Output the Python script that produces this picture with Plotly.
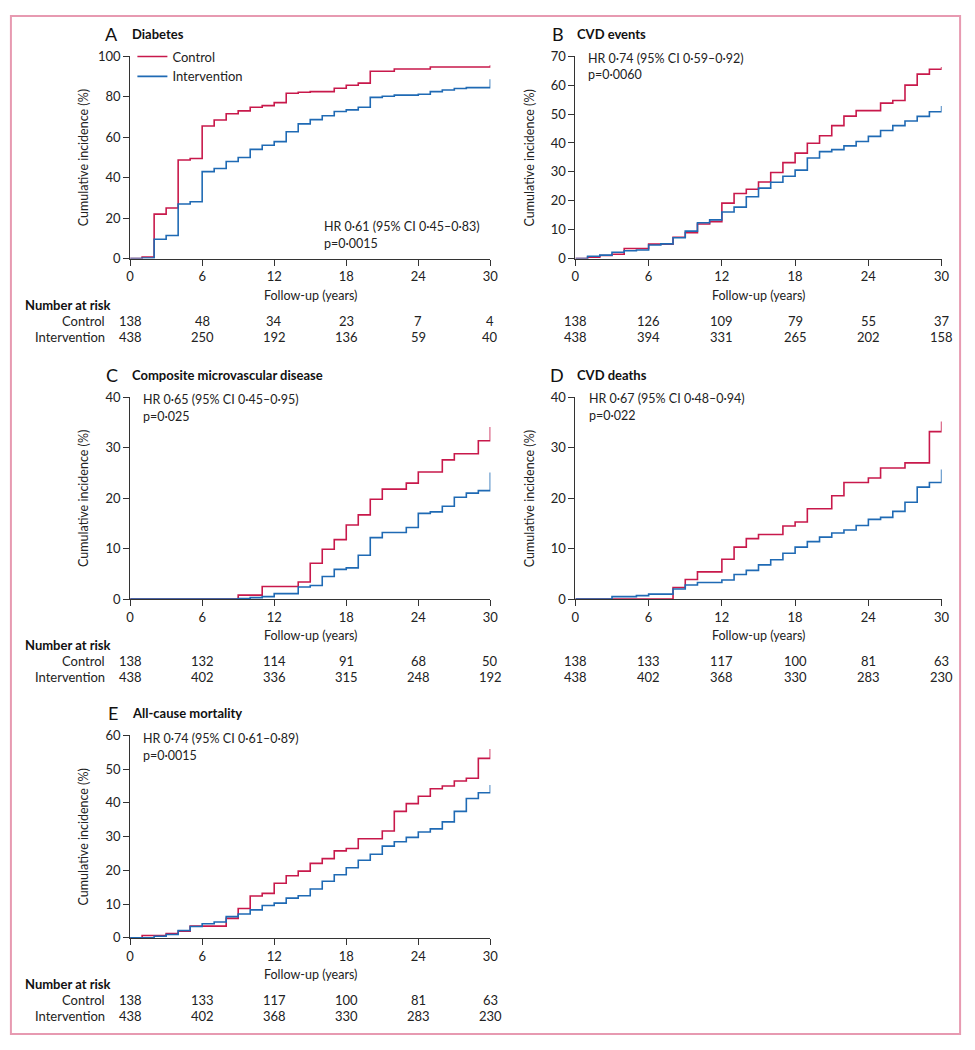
import plotly.graph_objects as go

# ---------------- data ----------------
x_ticks = [0, 6, 12, 18, 24, 30]

# Panel A: Diabetes
a_ctrl_t = [0, 1, 2, 3, 4, 5, 6, 7, 8, 9, 10, 11, 12, 13, 14, 15, 17, 18, 19, 20, 22, 25, 30]
a_ctrl_y = [0, 0.8, 22, 25, 48.7, 49.5, 65.5, 68.5, 71.6, 73, 74.8, 75.6, 77.1, 81.7, 82.2, 82.5, 84.2, 85.7, 86.7, 92.6, 93.7, 94.7, 95.5]
a_int_t = [0, 1, 2, 3, 4, 5, 6, 7, 8, 9, 10, 11, 12, 13, 14, 15, 16, 17, 18, 19, 20, 21, 22, 24, 25, 26, 27, 28, 30]
a_int_y = [0, 0.3, 9.6, 11.4, 27, 28.1, 43, 44.5, 48, 50, 54, 56, 57.8, 62.7, 66.6, 68.7, 70.6, 72.7, 73.5, 74.8, 79.7, 80.2, 80.8, 81.2, 82.5, 83.3, 84.1, 84.5, 88.6]

# Panel B: CVD events
b_ctrl_t = [0, 1, 2, 3, 4, 6, 8, 9, 10, 11, 12, 13, 14, 15, 16, 17, 18, 19, 20, 21, 22, 23, 25, 26, 27, 28, 29, 30]
b_ctrl_y = [0, 0.5, 1.1, 1.5, 3.5, 5, 7.4, 9, 12, 12.8, 19.2, 22.5, 24, 26.5, 29.8, 33.2, 36.5, 39.9, 42.5, 46, 49.3, 51.2, 53.8, 54.7, 60, 63.8, 65.5, 66.3]
b_int_t = list(range(0, 31))
b_int_y = [0, 0.8, 1.2, 2.2, 2.7, 3, 4.7, 5.1, 7.2, 9.5, 12.4, 13.4, 16.1, 17.8, 21.4, 24.4, 26.4, 28.5, 30.6, 34.8, 37, 37.7, 39, 40.5, 42.3, 44.3, 46, 47.6, 49.2, 50.8, 52.8]

# Panel C: Composite microvascular disease
c_ctrl_t = [0, 9, 11, 14, 15, 16, 17, 18, 19, 20, 21, 23, 24, 26, 27, 29, 30]
c_ctrl_y = [0, 0.8, 2.5, 3.4, 7.1, 9.9, 11.8, 14.7, 16.7, 19.8, 21.8, 23, 25.2, 27.6, 28.8, 31.4, 34.1]
c_int_t = [0, 9, 10, 11, 12, 14, 15, 16, 17, 18, 19, 20, 21, 23, 24, 25, 26, 27, 28, 29, 30]
c_int_y = [0, 0.1, 0.3, 0.5, 1.1, 2.4, 2.7, 4.5, 5.9, 6.2, 8.7, 12.2, 13.2, 14.2, 17.0, 17.3, 18.4, 20.2, 21.0, 21.5, 25.1]

# Panel D: CVD deaths
d_ctrl_t = [0, 8, 9, 10, 12, 13, 14, 15, 17, 18, 19, 21, 22, 24, 25, 27, 29, 30]
d_ctrl_y = [0, 2.3, 3.9, 5.4, 7.9, 10.3, 12, 12.8, 14.5, 15.3, 17.9, 20.5, 23.1, 24, 26, 27, 33.2, 35.2]
d_int_t = [0, 3, 5, 6, 8, 9, 10, 12, 13, 14, 15, 16, 17, 18, 19, 20, 21, 22, 23, 24, 25, 26, 27, 28, 29, 30]
d_int_y = [0, 0.5, 0.7, 1.0, 2.0, 2.8, 3.3, 3.8, 4.9, 5.7, 6.8, 7.8, 9.1, 10.3, 11.4, 12.3, 13.1, 13.7, 14.6, 15.8, 16.2, 17.4, 19.2, 22.2, 23.1, 25.7]

# Panel E: All-cause mortality
e_ctrl_t = [0, 1, 3, 4, 5, 8, 9, 10, 11, 12, 13, 14, 15, 16, 17, 18, 19, 21, 22, 23, 24, 25, 26, 27, 28, 29, 30]
e_ctrl_y = [0, 0.7, 1.3, 2.0, 3.5, 5.8, 8.7, 12.4, 13.2, 16.2, 18.4, 19.8, 22.1, 23.5, 25.8, 26.5, 29.4, 31.7, 37.5, 39.8, 42, 44.2, 45, 46.5, 47.3, 53.2, 56]
e_int_t = [0] + list(range(2, 31))
e_int_y = [0, 0.5, 1.0, 2.2, 3.4, 4.2, 4.7, 6.3, 7.1, 8.3, 9.6, 10.3, 11.8, 12.5, 14.5, 16.8, 18.7, 20.8, 23, 24.8, 27.2, 28.5, 29.8, 31.4, 32.3, 34.4, 37.5, 41.3, 43, 45.3]

# Number at risk
a_risk_ctrl = [138, 48, 34, 23, 7, 4]
a_risk_int = [438, 250, 192, 136, 59, 40]
b_risk_ctrl = [138, 126, 109, 79, 55, 37]
b_risk_int = [438, 394, 331, 265, 202, 158]
c_risk_ctrl = [138, 132, 114, 91, 68, 50]
c_risk_int = [438, 402, 336, 315, 248, 192]
d_risk_ctrl = [138, 133, 117, 100, 81, 63]
d_risk_int = [438, 402, 368, 330, 283, 230]
e_risk_ctrl = [138, 133, 117, 100, 81, 63]
e_risk_int = [438, 402, 368, 330, 283, 230]

# ---------------- layout helpers ----------------
W, H = 975, 1050
FONT = "Lato"
RED = "#c8194b"
BLUE = "#1f6ab4"
AX = "#333333"


def px(x):
    return x / W


def py(y):
    return 1 - y / H


panels = [
    dict(letter="A", title="Diabetes", hr="HR 0·61 (95% CI 0·45–0·83)", p="p=0·0015",
         hrpos=(322, 222), ymax=100, dtick=20, xs=(127.7, 492.4), ys=(49, 254.5),
         ctrl=(a_ctrl_t, a_ctrl_y), inter=(a_int_t, a_int_y), risk=(a_risk_ctrl, a_risk_int), labels=True),
    dict(letter="B", title="CVD events", hr="HR 0·74 (95% CI 0·59–0·92)", p="p=0·0060",
         hrpos=(589, 51), ymax=70, dtick=10, xs=(578.5, 949.3), ys=(49, 254.5),
         ctrl=(b_ctrl_t, b_ctrl_y), inter=(b_int_t, b_int_y), risk=(b_risk_ctrl, b_risk_int), labels=False),
    dict(letter="C", title="Composite microvascular disease", hr="HR 0·65 (95% CI 0·45–0·95)", p="p=0·025",
         hrpos=(139, 398), ymax=40, dtick=10, xs=(127.7, 492.4), ys=(395.3, 600.3),
         ctrl=(c_ctrl_t, c_ctrl_y), inter=(c_int_t, c_int_y), risk=(c_risk_ctrl, c_risk_int), labels=True),
    dict(letter="D", title="CVD deaths", hr="HR 0·67 (95% CI 0·48–0·94)", p="p=0·022",
         hrpos=(590, 397), ymax=40, dtick=10, xs=(578.5, 949.3), ys=(395.3, 600.3),
         ctrl=(d_ctrl_t, d_ctrl_y), inter=(d_int_t, d_int_y), risk=(d_risk_ctrl, d_risk_int), labels=False),
    dict(letter="E", title="All-cause mortality", hr="HR 0·74 (95% CI 0·61–0·89)", p="p=0·0015",
         hrpos=(139, 742), ymax=60, dtick=10, xs=(127.7, 492.4), ys=(738.7, 944.3),
         ctrl=(e_ctrl_t, e_ctrl_y), inter=(e_int_t, e_int_y), risk=(e_risk_ctrl, e_risk_int), labels=True),
]

fig = go.Figure()
annotations = []
TXT = dict(family=FONT, size=12.5, color="#222")

for i, pn in enumerate(panels):
    n = i + 1
    xa = "x" if n == 1 else f"x{n}"
    ya = "y" if n == 1 else f"y{n}"
    xkey = "xaxis" if n == 1 else f"xaxis{n}"
    ykey = "yaxis" if n == 1 else f"yaxis{n}"
    x0, x1 = pn["xs"]
    ytop, ybot = pn["ys"]

    fig.add_trace(go.Scatter(x=pn["ctrl"][0], y=pn["ctrl"][1], mode="lines", line_shape="hv",
                             line=dict(color=RED, width=1.6), name="Control",
                             showlegend=(n == 1), xaxis=xa, yaxis=ya, hoverinfo="skip"))
    fig.add_trace(go.Scatter(x=pn["inter"][0], y=pn["inter"][1], mode="lines", line_shape="hv",
                             line=dict(color=BLUE, width=1.6), name="Intervention",
                             showlegend=(n == 1), xaxis=xa, yaxis=ya, hoverinfo="skip"))

    common = dict(showline=True, linecolor=AX, linewidth=1, ticks="outside", ticklen=6,
                  tickcolor=AX, tickwidth=1, showgrid=False, zeroline=False,
                  tickfont=dict(family=FONT, size=13, color="#222"))
    fig.update_layout({
        xkey: dict(domain=[px(x0), px(x1)], range=[0, 30], tickvals=x_ticks,
                   anchor=ya, **common),
        ykey: dict(domain=[py(ybot), py(ytop)], range=[0, pn["ymax"]], dtick=pn["dtick"],
                   tick0=0, anchor=xa, **common),
    })

    annotations.append(dict(text=pn["letter"], x=px(x0 - 10), y=py(ytop - 23), xref="paper", yref="paper",
                            xanchor="right", yanchor="middle", showarrow=False,
                            font=dict(family=FONT, size=18, color="#111")))
    annotations.append(dict(text="<b>" + pn["title"] + "</b>", x=px(x0), y=py(ytop - 23),
                            xref="paper", yref="paper", xanchor="left", yanchor="middle",
                            showarrow=False, font=dict(family=FONT, size=13, color="#111")))
    hx, hy = pn["hrpos"]
    annotations.append(dict(text=pn["hr"], x=px(hx), y=py(hy), xref="paper", yref="paper",
                            xanchor="left", yanchor="middle", showarrow=False, font=TXT))
    annotations.append(dict(text=pn["p"], x=px(hx), y=py(hy + 17), xref="paper", yref="paper",
                            xanchor="left", yanchor="middle", showarrow=False, font=TXT))
    annotations.append(dict(text="Cumulative incidence (%)", x=px(x0 - 47), y=py((ytop + ybot) / 2),
                            xref="paper", yref="paper", textangle=-90, xanchor="center",
                            yanchor="middle", showarrow=False, font=TXT))
    annotations.append(dict(text="Follow-up (years)", x=px((x0 + x1) / 2), y=py(ybot + 37),
                            xref="paper", yref="paper", xanchor="center", yanchor="middle",
                            showarrow=False, font=TXT))
    rc, ri = pn["risk"]
    if pn["labels"]:
        annotations.append(dict(text="<b>Number at risk</b>", x=px(19), y=py(ybot + 47),
                                xref="paper", yref="paper", xanchor="left", yanchor="middle",
                                showarrow=False, font=dict(family=FONT, size=13, color="#111")))
        for lab, off in (("Control", 63), ("Intervention", 79.5)):
            annotations.append(dict(text=lab, x=px(104), y=py(ybot + off), xref="paper",
                                    yref="paper", xanchor="right", yanchor="middle",
                                    showarrow=False, font=dict(family=FONT, size=13, color="#222")))
    for vals, off in ((rc, 63), (ri, 79.5)):
        for t, v in zip(x_ticks, vals):
            annotations.append(dict(text=str(v), x=t, y=py(ybot + off), xref=xa, yref="paper",
                                    xanchor="center", yanchor="middle", showarrow=False,
                                    font=dict(family=FONT, size=13, color="#222")))

fig.update_layout(
    width=W, height=H, autosize=False,
    margin=dict(l=0, r=0, t=0, b=0),
    paper_bgcolor="white", plot_bgcolor="white",
    font=dict(family=FONT, size=13, color="#222"),
    annotations=annotations,
    legend=dict(x=px(130), y=py(34), xanchor="left", yanchor="top", bgcolor="rgba(0,0,0,0)",
                font=dict(family=FONT, size=13, color="#222"), tracegroupgap=0,
                itemwidth=30),
    shapes=[dict(type="rect", xref="paper", yref="paper", x0=px(7), x1=px(968), y0=py(1042), y1=py(8),
                 line=dict(color="#e79ab1", width=2), fillcolor="rgba(0,0,0,0)", layer="below")],
)

fig.write_html("out.html", config={"displayModeBar": False},
               post_script="document.body.style.margin='0';document.body.style.overflow='hidden';")
